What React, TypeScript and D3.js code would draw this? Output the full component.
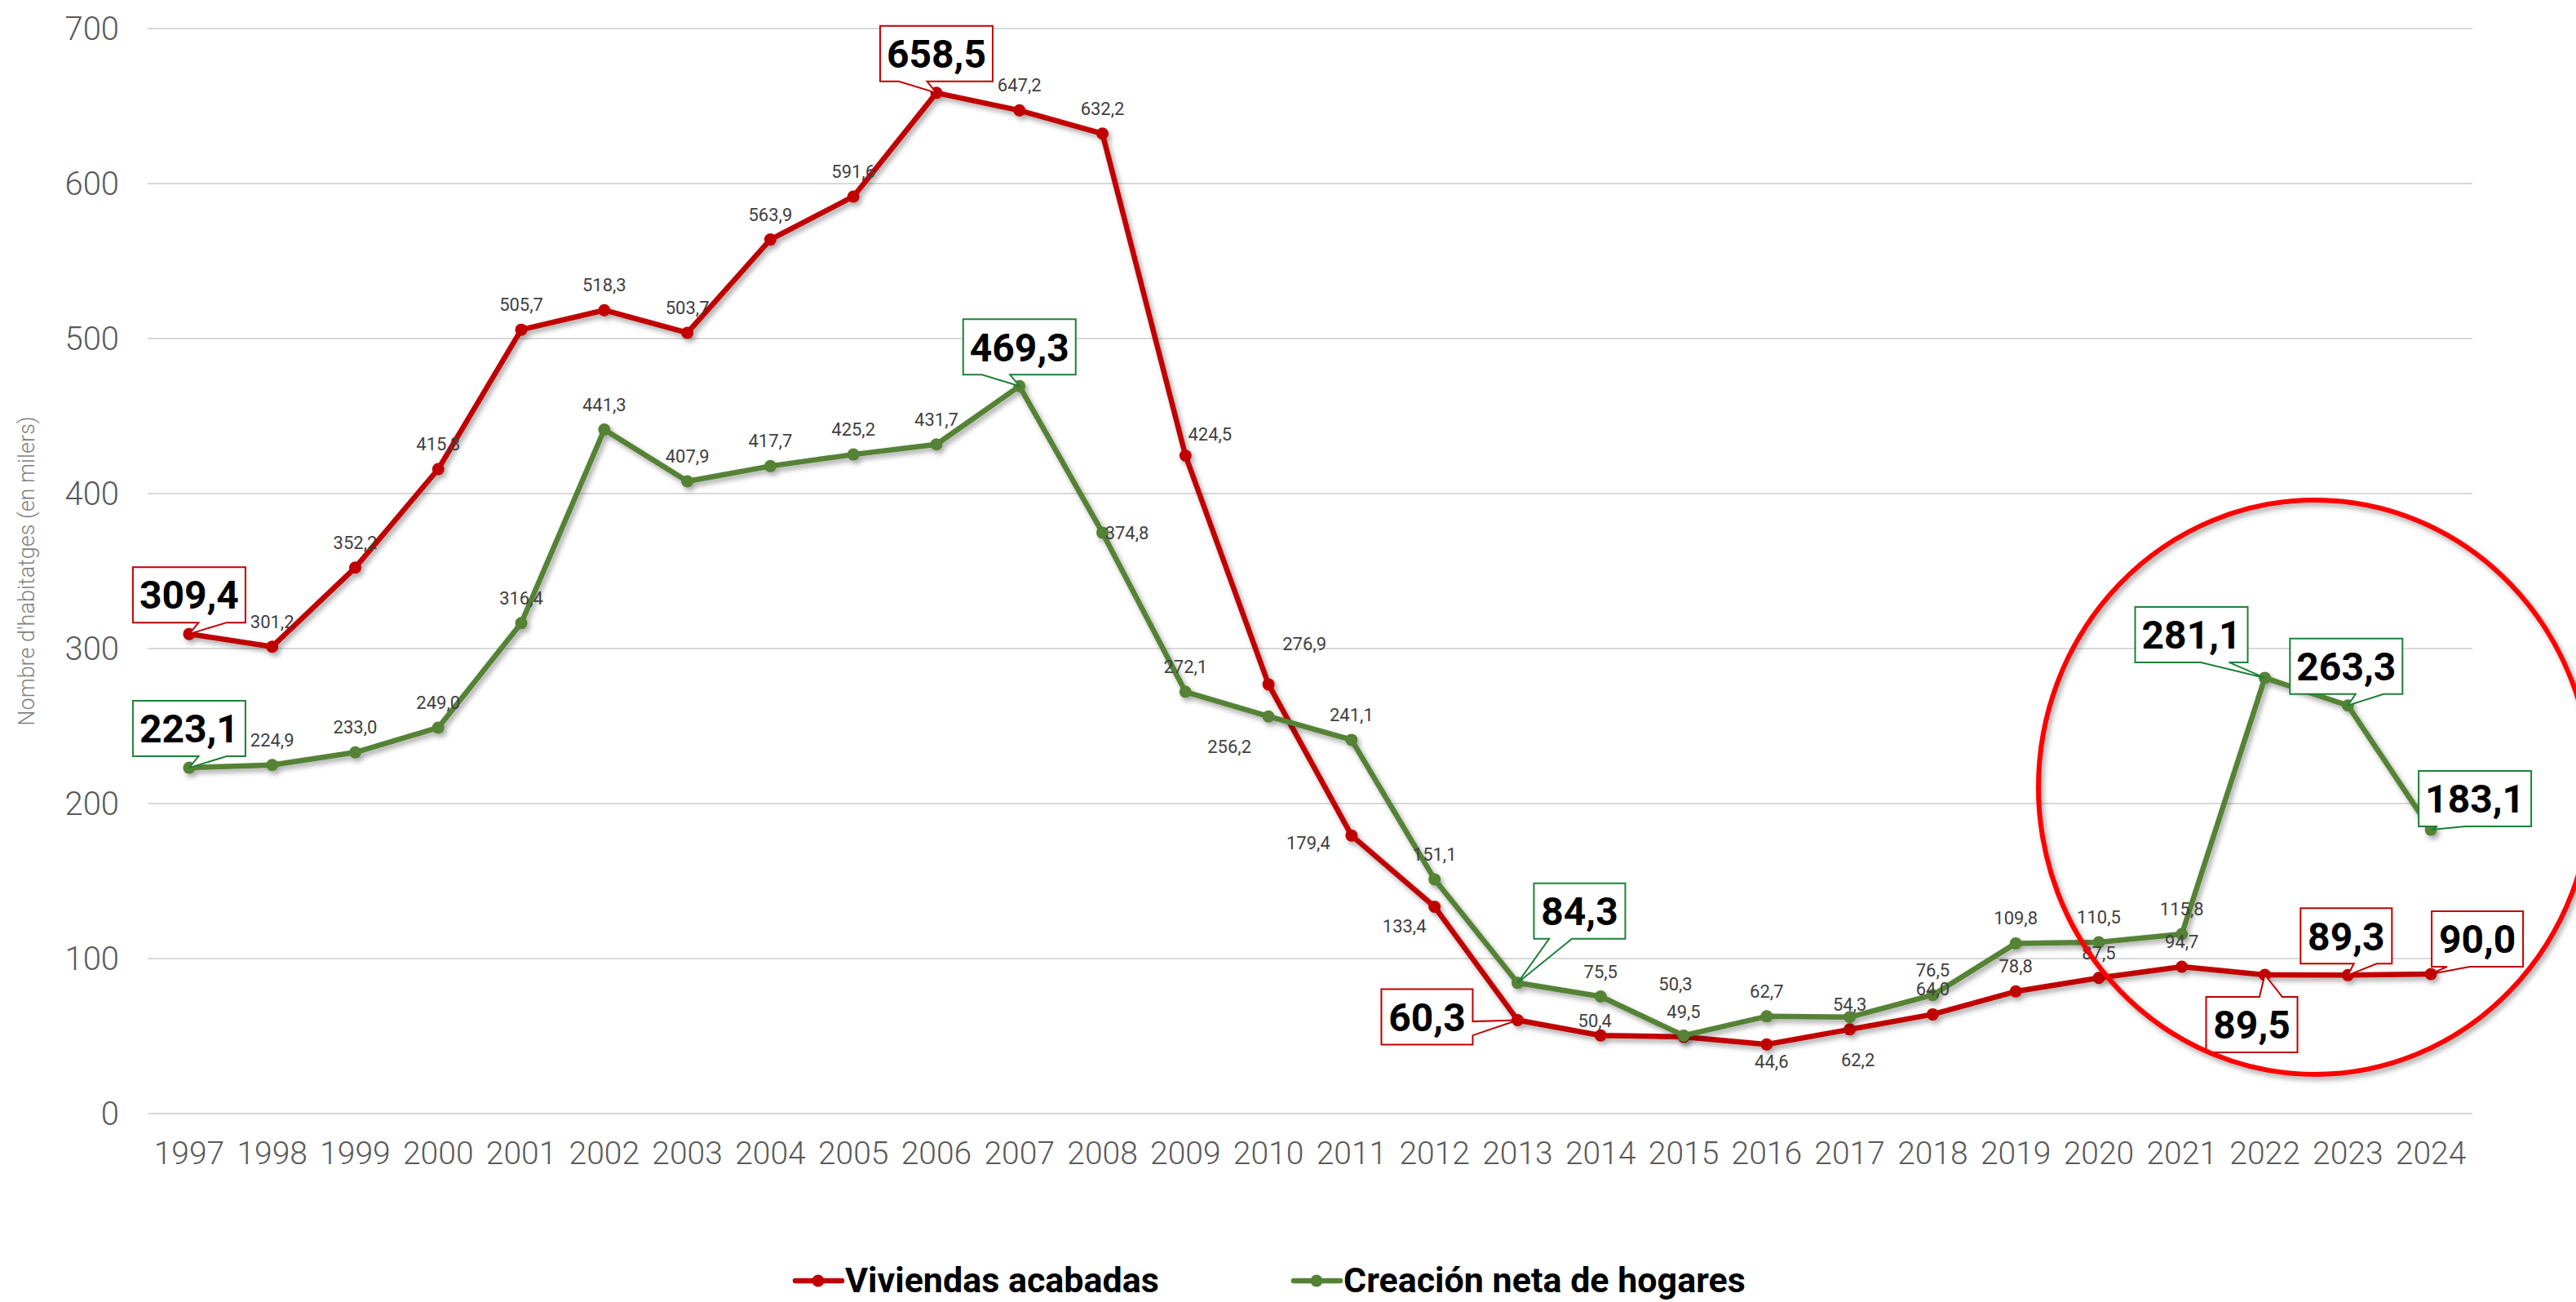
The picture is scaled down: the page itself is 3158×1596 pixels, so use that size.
import React from "react";
import * as d3 from "d3";

const years = [1997,1998,1999,2000,2001,2002,2003,2004,2005,2006,2007,2008,2009,2010,2011,2012,2013,2014,2015,2016,2017,2018,2019,2020,2021,2022,2023,2024];
const viviendas = [309.4,301.2,352.2,415.8,505.7,518.3,503.7,563.9,591.6,658.5,647.2,632.2,424.5,276.9,179.4,133.4,60.3,50.4,49.5,44.6,54.3,64.0,78.8,87.5,94.7,89.5,89.3,90.0];
const hogares = [223.1,224.9,233.0,249.0,316.4,441.3,407.9,417.7,425.2,431.7,469.3,374.8,272.1,256.2,241.1,151.1,84.3,75.5,50.3,62.7,62.2,76.5,109.8,110.5,115.8,281.1,263.3,183.1];
const yTicks = [0,100,200,300,400,500,600,700];
const seriesNames = ["Viviendas acabadas", "Creación neta de hogares"];
const yTitle = "Nombre d'habitatges (en milers)";

// label placement (layout config, offsets of small value labels from their point)
const redLabelOffsets: Record<number, [number, number]> = {
  2009: [30, -18], 2010: [44, -42], 2011: [-53, 17], 2012: [-37, 31], 2014: [-7, -10], 2016: [6, 29],
};
const greenLabelOffsets: Record<number, [number, number]> = {
  2008: [30, 8], 2010: [-48, 45], 2015: [-10, -55], 2017: [10, 60],
};
// callout boxes (offset of box centre from point)
const redCallouts: [number, number, number][] = [
  [1997, 0, -48], [2006, 0, -48], [2013, -111, -4], [2022, -16, 61], [2023, -2, -48], [2024, 57, -43],
];
const greenCallouts: [number, number, number][] = [
  [1997, 0, -48], [2007, 0, -48], [2013, 76, -88], [2022, -90, -53], [2023, -2, -48], [2024, 54, -38],
];

const W = 3158, H = 1596;
const RED = "#C00000";
const GREEN = "#548235";
const RED_BOX = "#C00000";
const GREEN_BOX = "#1E8036";
const FONT = "Roboto, 'Liberation Sans', sans-serif";

const fmt = (v: number) => v.toFixed(1).replace(".", ",");

function calloutPath(l: number, t: number, r: number, b: number, xPos: number, yPos: number) {
  const w = r - l, h = b - t, hc = (l + r) / 2, vc = (t + b) / 2;
  const dxPos = xPos - hc, dyPos = yPos - vc;
  const dq = (dxPos * h) / w;
  const dz = Math.abs(dyPos) - Math.abs(dq);
  const q = (c: number, a: number, bb: number) => (c > 0 ? a : bb);
  const x1 = l + (w * q(dxPos, 7, 2)) / 12, x2 = l + (w * q(dxPos, 10, 5)) / 12;
  const y1 = t + (h * q(dyPos, 7, 2)) / 12, y2 = t + (h * q(dyPos, 10, 5)) / 12;
  const xl = q(dz, l, q(dxPos, l, xPos));
  const xt = q(dz, q(dyPos, x1, xPos), x1);
  const xr = q(dz, r, q(dxPos, xPos, r));
  const xb = q(dz, q(dyPos, xPos, x1), x1);
  const yl = q(dz, y1, q(dxPos, y1, yPos));
  const yt = q(dz, q(dyPos, t, yPos), t);
  const yr = q(dz, y1, q(dxPos, yPos, y1));
  const yb = q(dz, q(dyPos, yPos, b), b);
  return `M${l},${t}L${x1},${t}L${xt},${yt}L${x2},${t}L${r},${t}L${r},${y1}L${xr},${yr}L${r},${y2}L${r},${b}L${x2},${b}L${xb},${yb}L${x1},${b}L${l},${b}L${l},${y2}L${xl},${yl}L${l},${y1}Z`;
}

export default function App() {
  const x = d3.scaleBand<number>().domain(years).range([181, 3031]).padding(0);
  const cx = (yr: number) => (x(yr) as number) + x.bandwidth() / 2;
  const y = d3.scaleLinear().domain([0, 700]).range([1365, 35]);

  const line = d3.line<number>().x((_, i) => cx(years[i])).y((v) => y(v));

  const series = [
    { name: seriesNames[0], values: viviendas, color: RED, box: RED_BOX, offsets: redLabelOffsets, callouts: redCallouts },
    { name: seriesNames[1], values: hogares, color: GREEN, box: GREEN_BOX, offsets: greenLabelOffsets, callouts: greenCallouts },
  ];

  return (
    <div style={{ position: "absolute", left: 0, top: 0, width: W, height: H, overflow: "hidden", background: "#fff" }}>
      <svg width={W} height={H} style={{ display: "block" }} fontFamily={FONT}>
        <defs>
          <filter id="shadow" x="-10%" y="-10%" width="130%" height="130%">
            <feDropShadow dx="3" dy="4" stdDeviation="3" floodColor="#000" floodOpacity="0.35" />
          </filter>
        </defs>
        <rect width={W} height={H} fill="#fff" />
        {/* grid */}
        {yTicks.map((t) => (
          <g key={t}>
            <line x1={181} x2={3031} y1={y(t)} y2={y(t)} stroke="#D9D9D9" strokeWidth={2} />
            <text x={146} y={y(t)} dy="0.36em" textAnchor="end" fontSize={40} fontWeight={300} fill="#595959">{t}</text>
          </g>
        ))}
        {years.map((yr) => (
          <text key={yr} x={cx(yr)} y={1427} textAnchor="middle" fontSize={39} fontWeight={300} fill="#595959">{yr}</text>
        ))}
        <text transform={`translate(33,700) rotate(-90)`} textAnchor="middle" dy="0.35em" fontSize={27} fontWeight={300} fill="#7F7F7F">{yTitle}</text>

        {/* lines */}
        {series.map((s) => (
          <g key={s.name} filter="url(#shadow)">
            <path d={line(s.values) as string} fill="none" stroke={s.color} strokeWidth={6.5} strokeLinejoin="round" />
            {s.values.map((v, i) => (
              <circle key={i} cx={cx(years[i])} cy={y(v)} r={7.5} fill={s.color} />
            ))}
          </g>
        ))}

        {/* small labels */}
        {series.map((s) =>
          s.values.map((v, i) => {
            const yr = years[i];
            if (s.callouts.some((c) => c[0] === yr)) return null;
            const off = s.offsets[yr] || [0, -23];
            return (
              <text key={s.name + yr} x={cx(yr) + off[0]} y={y(v) + off[1]} textAnchor="middle" fontSize={22} fill="#404040">
                {fmt(v)}
              </text>
            );
          })
        )}

        {/* callouts */}
        {series.map((s) =>
          s.callouts.map(([yr, dx, dy]) => {
            const i = years.indexOf(yr);
            const v = s.values[i];
            const px = cx(yr), py = y(v);
            const label = fmt(v);
            const w = label.length * 26 + 8, h = 68;
            const bcx = px + dx, bcy = py + dy;
            const l = bcx - w / 2, t = bcy - h / 2;
            return (
              <g key={s.name + "c" + yr}>
                <path d={calloutPath(l, t, l + w, t + h, px, py)} fill="#fff" stroke={s.box} strokeWidth={2} />
                <text x={bcx} y={bcy} dy="0.36em" textAnchor="middle" fontSize={48} fontWeight={700} fill="#000">{label}</text>
              </g>
            );
          })
        )}

        {/* highlight ellipse */}
        <ellipse cx={2838} cy={965} rx={339} ry={352} fill="none" stroke="#FF0000" strokeWidth={6} filter="url(#shadow)" />

        {/* legend */}
        {series.map((s, k) => {
          const lx = k === 0 ? 975 : 1586;
          return (
            <g key={"leg" + k}>
              <line x1={lx} x2={lx + 57} y1={1570} y2={1570} stroke={s.color} strokeWidth={6.5} strokeLinecap="round" />
              <circle cx={lx + 28} cy={1570} r={7.5} fill={s.color} />
              <text x={lx + 61} y={1584} fontSize={43} fontWeight={700} fill="#000">{s.name}</text>
            </g>
          );
        })}
      </svg>
    </div>
  );
}
